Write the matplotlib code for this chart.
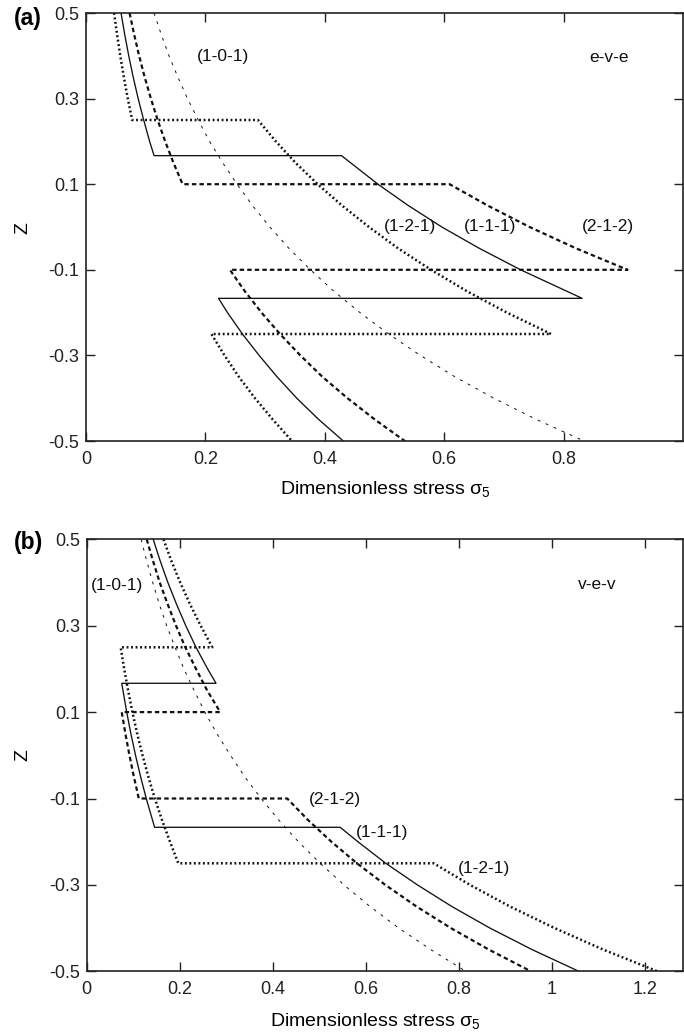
import matplotlib
matplotlib.use("Agg")
import matplotlib.pyplot as plt

plt.rcParams['font.family'] = ['Liberation Sans', 'DejaVu Sans']
plt.rcParams['mathtext.fontset'] = 'custom'
plt.rcParams['mathtext.rm'] = 'Liberation Sans'
plt.rcParams['mathtext.it'] = 'Liberation Sans:italic'

# ---------------- data ----------------
z_101 = [0.5, 0.45, 0.4, 0.35, 0.3, 0.25, 0.2, 0.15, 0.1, 0.05, 0.0,
         -0.05, -0.1, -0.15, -0.2, -0.25, -0.3, -0.35, -0.4, -0.45, -0.5]

# panel (a): e-v-e
a_101_s = [0.114, 0.126, 0.139, 0.154, 0.170, 0.188, 0.207, 0.229, 0.253, 0.279, 0.308,
           0.340, 0.376, 0.415, 0.459, 0.507, 0.560, 0.618, 0.683, 0.755, 0.834]

a_111_z = [0.5, 0.45, 0.4, 0.35, 0.3, 0.25, 0.2, 0.1667,
           0.1667, 0.1, 0.05, 0.0, -0.05, -0.1, -0.1667,
           -0.1667, -0.2, -0.25, -0.3, -0.35, -0.4, -0.45, -0.5]
a_111_s = [0.0587, 0.0648, 0.0716, 0.0791, 0.0874, 0.0966, 0.1066, 0.114,
           0.428, 0.489, 0.540, 0.596, 0.659, 0.728, 0.831,
           0.222, 0.237, 0.262, 0.290, 0.320, 0.353, 0.390, 0.431]

a_121_z = [0.5, 0.45, 0.4, 0.35, 0.3, 0.25,
           0.25, 0.2, 0.15, 0.1, 0.05, 0.0, -0.05, -0.1, -0.15, -0.2, -0.25,
           -0.25, -0.3, -0.35, -0.4, -0.45, -0.5]
a_121_s = [0.047, 0.052, 0.0574, 0.0634, 0.070, 0.0773,
           0.288, 0.318, 0.351, 0.388, 0.429, 0.474, 0.523, 0.578, 0.638, 0.705, 0.779,
           0.210, 0.232, 0.256, 0.283, 0.313, 0.345]

a_212_z = [0.5, 0.45, 0.4, 0.35, 0.3, 0.25, 0.2, 0.15, 0.1,
           0.1, 0.05, 0.0, -0.05, -0.1,
           -0.1, -0.15, -0.2, -0.25, -0.3, -0.35, -0.4, -0.45, -0.5]
a_212_s = [0.073, 0.0806, 0.089, 0.0983, 0.1087, 0.120, 0.1326, 0.1465, 0.1618,
           0.609, 0.673, 0.743, 0.821, 0.907,
           0.241, 0.266, 0.294, 0.325, 0.359, 0.396, 0.438, 0.484, 0.534]

# panel (b): v-e-v
b_101_s = [0.117, 0.129, 0.142, 0.156, 0.172, 0.190, 0.209, 0.231, 0.254, 0.280, 0.309,
           0.340, 0.375, 0.413, 0.455, 0.502, 0.553, 0.609, 0.671, 0.740, 0.815]

b_111_z = a_111_z
b_111_s = [0.143, 0.158, 0.1745, 0.193, 0.213, 0.235, 0.260, 0.278,
           0.0753, 0.086, 0.095, 0.105, 0.116, 0.128, 0.146,
           0.545, 0.583, 0.643, 0.711, 0.785, 0.867, 0.958, 1.058]

b_212_z = a_212_z
b_212_s = [0.129, 0.1425, 0.157, 0.174, 0.192, 0.212, 0.235, 0.259, 0.287,
           0.0753, 0.0832, 0.0919, 0.1015, 0.112,
           0.431, 0.476, 0.526, 0.581, 0.642, 0.709, 0.783, 0.865, 0.955]

b_121_z = a_121_z
b_121_s = [0.165, 0.182, 0.201, 0.222, 0.245, 0.270,
           0.073, 0.0806, 0.089, 0.0983, 0.1086, 0.120, 0.1326, 0.1465, 0.162, 0.179, 0.197,
           0.746, 0.824, 0.910, 1.006, 1.111, 1.227]

y_ticks = [0.5, 0.3, 0.1, -0.1, -0.3, -0.5]
y_ticklabels = ['0.5', '0.3', '0.1', '-0.1', '-0.3', '-0.5']
a_xticks = [0, 0.2, 0.4, 0.6, 0.8]
a_xticklabels = ['0', '0.2', '0.4', '0.6', '0.8']
b_xticks = [0, 0.2, 0.4, 0.6, 0.8, 1.0, 1.2]
b_xticklabels = ['0', '0.2', '0.4', '0.6', '0.8', '1', '1.2']

a_labels = [('(1-0-1)', 0.229, 0.398), ('e-v-e', 0.876, 0.397),
            ('(1-2-1)', 0.543, 0.0), ('(1-1-1)', 0.676, 0.0), ('(2-1-2)', 0.874, 0.0)]
b_labels = [('(1-0-1)', 0.066, 0.394), ('v-e-v', 1.097, 0.396),
            ('(2-1-2)', 0.534, -0.103), ('(1-1-1)', 0.634, -0.178), ('(1-2-1)', 0.854, -0.263)]

# ---------------- figure ----------------
W, H = 684, 1036
fig = plt.figure(figsize=(W / 100, H / 100), dpi=100)

def px_axes(l, t, r, b):
    return fig.add_axes([l / W, 1 - b / H, (r - l) / W, (b - t) / H])

ax_a = px_axes(86, 13, 683, 441)
ax_b = px_axes(86.7, 539.3, 683, 971.3)

ink = '#111111'
style_thin = dict(color=ink, lw=0.7, dashes=(3, 6))
style_solid = dict(color=ink, lw=0.95, linestyle='-')
style_dot = dict(color=ink, lw=1.8, dashes=(0.75, 1.05))
style_dash = dict(color=ink, lw=1.6, dashes=(2.0, 1.4))

def setup(ax, xmax, xticks, xticklabels):
    ax.set_xlim(0, xmax)
    ax.set_ylim(-0.5, 0.5)
    ax.set_yticks(y_ticks)
    ax.set_yticklabels(y_ticklabels)
    ax.set_xticks(xticks)
    ax.set_xticklabels(xticklabels)
    ax.tick_params(direction='in', top=True, right=True, length=6.3, width=1.0,
                   color='#222222', labelsize=13, labelcolor='#222222')
    ax.tick_params(axis='y', pad=5)
    ax.tick_params(axis='x', pad=7)
    for sp in ax.spines.values():
        sp.set_color('#222222')
        sp.set_linewidth(1.2)

# panel a
ax_a.plot(a_101_s, z_101, **style_thin)
ax_a.plot(a_111_s, a_111_z, **style_solid)
ax_a.plot(a_121_s, a_121_z, **style_dot)
ax_a.plot(a_212_s, a_212_z, **style_dash)
setup(ax_a, 1.0, a_xticks, a_xticklabels)
for t, x, y in a_labels:
    ax_a.text(x, y, t, ha='center', va='center', fontsize=12.5, color='#111111')

# panel b
ax_b.plot(b_101_s, z_101, **style_thin)
ax_b.plot(b_111_s, b_111_z, **style_solid)
ax_b.plot(b_121_s, b_121_z, **style_dot)
ax_b.plot(b_212_s, b_212_z, **style_dash)
setup(ax_b, 1.282, b_xticks, b_xticklabels)
for t, x, y in b_labels:
    ax_b.text(x, y, t, ha='center', va='center', fontsize=12.5, color='#111111')

# panel letters and axis labels
fig.text(14 / W, 1 - 19 / H, '(a)', fontsize=16.5, fontweight='bold', ha='left', va='center')
fig.text(14 / W, 1 - 543 / H, '(b)', fontsize=16.5, fontweight='bold', ha='left', va='center')
fig.text(22.5 / W, 1 - 227.7 / H, 'Z', fontsize=14, rotation=90, ha='center', va='center')
fig.text(22.5 / W, 1 - 755 / H, 'Z', fontsize=14, rotation=90, ha='center', va='center')
fig.text(385 / W, 1 - 489 / H, 'Dimensionless stress σ$_5$', fontsize=14, ha='center', va='center')
fig.text(375 / W, 1 - 1021 / H, 'Dimensionless stress σ$_5$', fontsize=14, ha='center', va='center')

fig.savefig('out.png', dpi=100)
